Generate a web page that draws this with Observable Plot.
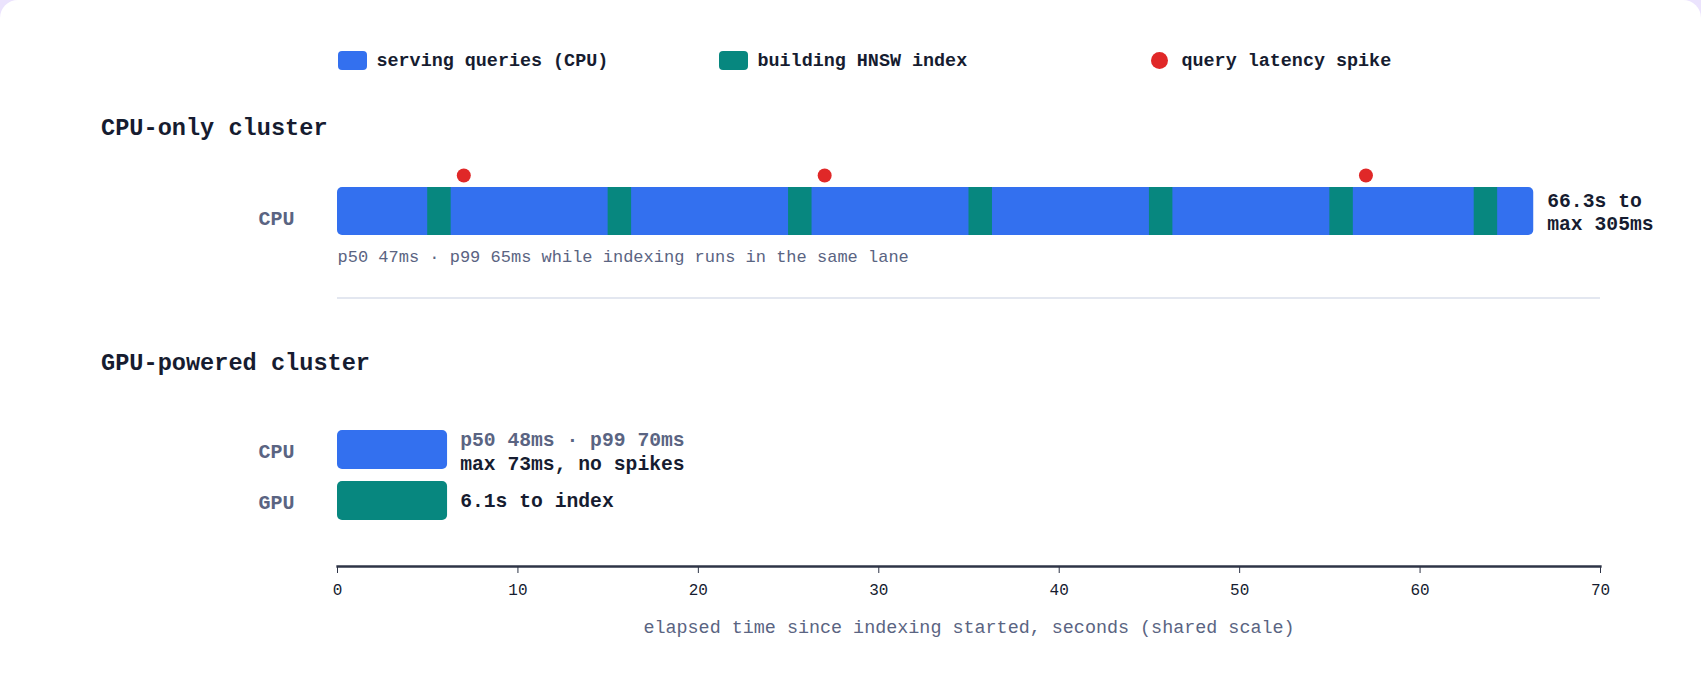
<!DOCTYPE html>
<html>
<head>
<meta charset="utf-8">
<script src="https://cdn.jsdelivr.net/npm/d3@7"></script>
<script src="https://cdn.jsdelivr.net/npm/@observablehq/plot@0.6"></script>
<style>
  html, body { margin: 0; padding: 0; background: #ebe3fd; width: 1701px; height: 689px; overflow: hidden; }
  #card { position: absolute; left: 0; top: 0; width: 1701px; height: 900px; background: #fff; border-radius: 18px; }
  .t { position: absolute; font-family: "Liberation Mono", monospace; line-height: 1; white-space: pre; font-weight: 700; color: #161c30; }
  .sw { position: absolute; }
  .chart { position: absolute; left: 0; }
  .sep { position: absolute; left: 337px; top: 297px; width: 1263px; height: 2px; background: #e3e7f0; }
</style>
</head>
<body>
<div id="card"></div>
<div id="root"></div>
<script>
// ---- data ----
const legendLabels = ["serving queries (CPU)", "building HNSW index", "query latency spike"];
const sectionTitles = ["CPU-only cluster", "GPU-powered cluster"];
const timeDomain = [0, 70];
const timeTicks = [0, 10, 20, 30, 40, 50, 60, 70];
const axisTitle = "elapsed time since indexing started, seconds (shared scale)";

const cpuOnlyRows = ["CPU"];
const cpuOnlyServeEnd = [66.3];
const indexStart = [5, 15, 25, 35, 45, 55, 63];
const indexEnd = [6.3, 16.3, 26.3, 36.3, 46.3, 56.3, 64.3];
const spikeTimes = [7, 27, 57];
const cpuOnlyNote = "p50 47ms · p99 65ms while indexing runs in the same lane";
const cpuOnlyEndLines = ["66.3s to", "max 305ms"];

const gpuRows = ["CPU", "GPU"];
const gpuKinds = ["serve", "index"];
const gpuEnd = [6.1, 6.1];
const gpuCpuLines = ["p50 48ms · p99 70ms", "max 73ms, no spikes"];
const gpuGpuLine = "6.1s to index";

// ---- style ----
const BLUE = "#3370ef", TEAL = "#07877f", RED = "#e02828", DARK = "#161c30", GRAY = "#5a6482";
const FONT = "Liberation Mono, monospace";
const colorOf = {serve: BLUE, index: TEAL};

const root = document.getElementById("root");
function addText(txt, left, top, size, color) {
  const d = document.createElement("div");
  d.className = "t";
  d.textContent = txt;
  d.style.left = left + "px";
  d.style.top = top + "px";
  d.style.fontSize = size + "px";
  if (color) d.style.color = color;
  root.appendChild(d);
}

// legend
const legendX = [337.5, 718.5, 1151];
[0, 1].forEach(i => {
  const s = document.createElement("div");
  s.className = "sw";
  s.style.cssText = `left:${legendX[i]}px;top:51px;width:29px;height:19px;border-radius:4px;background:${i === 0 ? BLUE : TEAL}`;
  root.appendChild(s);
});
{
  const s = document.createElement("div");
  s.className = "sw";
  s.style.cssText = `left:${legendX[2]}px;top:52px;width:17px;height:17px;border-radius:50%;background:${RED}`;
  root.appendChild(s);
}
addText(legendLabels[0], 376.5, 53, 18.4);
addText(legendLabels[1], 757.5, 53, 18.4);
addText(legendLabels[2], 1181.5, 53, 18.4);

// section titles
addText(sectionTitles[0], 101, 117, 23.6);
addText(sectionTitles[1], 101, 352, 23.6);

// separator
const sep = document.createElement("div");
sep.className = "sep";
root.appendChild(sep);

// ---- chart 1: CPU-only ----
const serveData = cpuOnlyRows.map((r, i) => ({row: r, x1: 0, x2: cpuOnlyServeEnd[i]}));
const indexData = indexStart.map((s, i) => ({row: "CPU", x1: s, x2: indexEnd[i]}));
const spikeData = spikeTimes.map(t => ({row: "CPU", t}));

const chart1 = Plot.plot({
  width: 1701,
  height: 160,
  marginLeft: 337,
  marginRight: 101,
  marginTop: 0,
  marginBottom: 0,
  style: {fontFamily: FONT, background: "transparent", overflow: "visible"},
  x: {domain: timeDomain, axis: null},
  y: {domain: cpuOnlyRows, range: [37, 85], paddingInner: 0, paddingOuter: 0, axis: null},
  marks: [
    Plot.barX(serveData, {y: "row", x1: "x1", x2: "x2", fill: BLUE, rx: 5}),
    Plot.barX(indexData, {y: "row", x1: "x1", x2: "x2", fill: TEAL}),
    Plot.dot(spikeData, {x: "t", y: "row", r: 7, fill: RED, dy: -36}),
    Plot.text(cpuOnlyRows, {y: d => d, frameAnchor: "left", textAnchor: "end", dx: -43, dy: 7,
      fontSize: 20, fontWeight: 700, fill: GRAY}),
    Plot.text([cpuOnlyNote], {x: 0, y: () => "CPU", text: d => d, textAnchor: "start", dy: 44.6,
      fontSize: 17, fill: GRAY}),
    Plot.text([cpuOnlyEndLines[0]], {x: () => cpuOnlyServeEnd[0], y: () => "CPU", text: d => d,
      textAnchor: "start", dx: 13.5, dy: -10.7, fontSize: 19.7, fontWeight: 700, fill: DARK}),
    Plot.text([cpuOnlyEndLines[1]], {x: () => cpuOnlyServeEnd[0], y: () => "CPU", text: d => d,
      textAnchor: "start", dx: 13.5, dy: 12.6, fontSize: 19.7, fontWeight: 700, fill: DARK})
  ]
});
chart1.classList.add("chart");
chart1.style.top = "150px";
root.appendChild(chart1);

// ---- chart 2: GPU-powered ----
const gpuData = gpuRows.map((r, i) => ({row: r, kind: gpuKinds[i], x1: 0, x2: gpuEnd[i]}));

const chart2 = Plot.plot({
  width: 1701,
  height: 250,
  marginLeft: 337,
  marginRight: 101,
  marginTop: 0,
  marginBottom: 84,
  style: {fontFamily: FONT, background: "transparent", overflow: "visible", color: DARK},
  x: {domain: timeDomain, ticks: timeTicks},
  y: {domain: gpuRows, range: [29.5, 120], paddingInner: 0.235, paddingOuter: 0, axis: null},
  marks: [
    Plot.frame({anchor: "bottom", stroke: "#2e3446", strokeWidth: 2.3}),
    Plot.axisX({ticks: timeTicks, tickSize: 7, tickPadding: 10, fontSize: 16, stroke: "#2e3446",
      fill: DARK, label: null, tickFormat: d => String(d)}),
    Plot.barX(gpuData, {y: "row", x1: "x1", x2: "x2", fill: d => colorOf[d.kind], rx: 5}),
    Plot.text(gpuRows, {y: d => d, frameAnchor: "left", textAnchor: "end", dx: -43, dy: 2,
      fontSize: 20, fontWeight: 700, fill: GRAY}),
    Plot.text([gpuCpuLines[0]], {x: () => gpuEnd[0], y: () => "CPU", text: d => d, textAnchor: "start",
      dx: 12.6, dy: -10, fontSize: 19.7, fontWeight: 700, fill: GRAY}),
    Plot.text([gpuCpuLines[1]], {x: () => gpuEnd[0], y: () => "CPU", text: d => d, textAnchor: "start",
      dx: 12.6, dy: 13.9, fontSize: 19.7, fontWeight: 700, fill: DARK}),
    Plot.text([gpuGpuLine], {x: () => gpuEnd[1], y: () => "GPU", text: d => d, textAnchor: "start",
      dx: 12.6, dy: 0, fontSize: 19.7, fontWeight: 700, fill: DARK}),
    Plot.text([axisTitle], {frameAnchor: "bottom", text: d => d, dy: 66, fontSize: 18.4, fill: GRAY})
  ]
});
chart2.classList.add("chart");
chart2.style.top = "400px";
root.appendChild(chart2);
</script>
</body>
</html>
